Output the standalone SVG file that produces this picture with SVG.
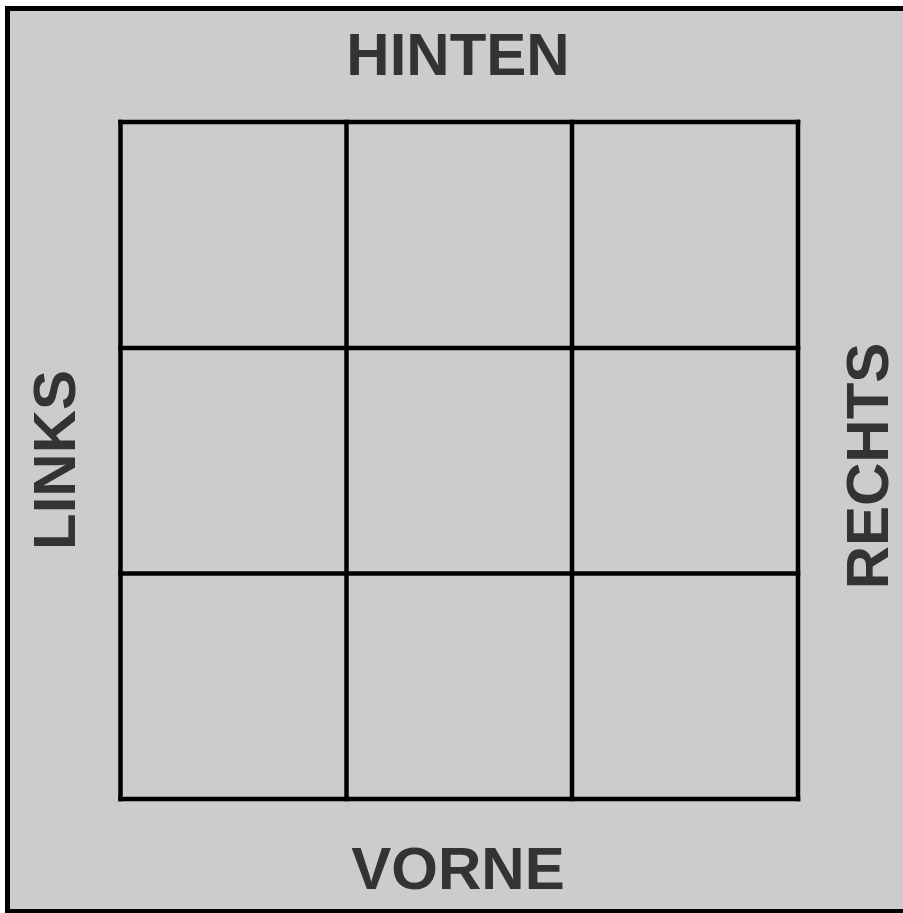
<svg xmlns="http://www.w3.org/2000/svg" width="903" height="913" viewBox="0 0 903 913">
<style>
.lbl{font-family:"Liberation Sans",Arial,sans-serif;font-weight:bold;font-size:60px;fill:#333333;text-anchor:middle}
.grid line{stroke:#000;stroke-width:4.5;stroke-linecap:square}
</style>
<rect x="7.5" y="8.5" width="900" height="903" fill="#cccccc" stroke="#000" stroke-width="5"/>
<g id="grid" class="grid">
<line x1="120.5" y1="122" x2="798" y2="122"/>
<line x1="120.5" y1="348" x2="798" y2="348"/>
<line x1="120.5" y1="573.5" x2="798" y2="573.5"/>
<line x1="120.5" y1="799" x2="798" y2="799"/>
<line x1="120.5" y1="122" x2="120.5" y2="799"/>
<line x1="346.5" y1="122" x2="346.5" y2="799"/>
<line x1="572" y1="122" x2="572" y2="799"/>
<line x1="798" y1="122" x2="798" y2="799"/>
</g>
<g id="hinten"><text class="lbl" x="458" y="75">HINTEN</text></g>
<g id="vorne"><text class="lbl" x="458" y="889">VORNE</text></g>
<g id="links"><text class="lbl" transform="translate(75,460) rotate(-90)">LINKS</text></g>
<g id="rechts"><text class="lbl" transform="translate(888,466) rotate(-90)">RECHTS</text></g>
</svg>
